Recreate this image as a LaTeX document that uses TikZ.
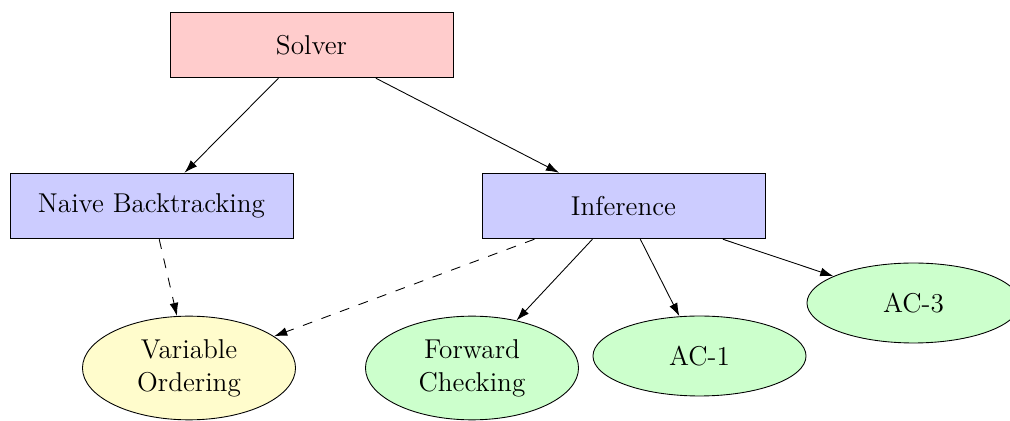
\documentclass[tikz,border=0pt]{standalone}
\usetikzlibrary{shapes.geometric,arrows.meta}
\tikzset{
  algbox/.style={draw,rectangle,minimum width=4.53cm,minimum height=1.05cm,font=\fontsize{12.4}{15}\selectfont},
  techell/.style={draw,ellipse,minimum width=3.41cm,minimum height=1.28cm,font=\fontsize{12.4}{15}\selectfont,align=center,fill=green!20},
  weakdep/.style={dash pattern=on 4.5pt off 4.5pt}
}
\begin{document}
\begin{tikzpicture}[>={Latex[length=6pt,width=4pt]},x=0.016cm,y=-0.016cm]
    \useasboundingbox (0,0) rectangle (1010,421);
    \node[algbox,fill=red!20] (solver) at (311.5,45) {Solver};
    \node[algbox,fill=blue!20] (naive) at (151.5,206) {Naive Backtracking};
    \node[algbox,fill=blue!20] (inference) at (623.5,206) {Inference};
    \node[techell,fill=yellow!20,minimum height=1.66cm] (varorder) at (189,368) {Variable\\Ordering};
    \node[techell,minimum height=1.66cm] (forward) at (472,368) {Forward\\Checking};
    \node[techell] (acone) at (699.5,356) {AC-1};
    \node[techell] (acthree) at (913.5,303) {AC-3};
    % tree edges
    \draw[->] (solver) -- (naive);
    \draw[->] (solver) -- (inference);
    \draw[->,weakdep] (naive) -- (varorder);
    \draw[->,weakdep] (inference) -- (varorder);
    \draw[->] (inference) -- (forward);
    \draw[->] (inference) -- (acone);
    \draw[->] (inference) -- (acthree);
\end{tikzpicture}
\end{document}
